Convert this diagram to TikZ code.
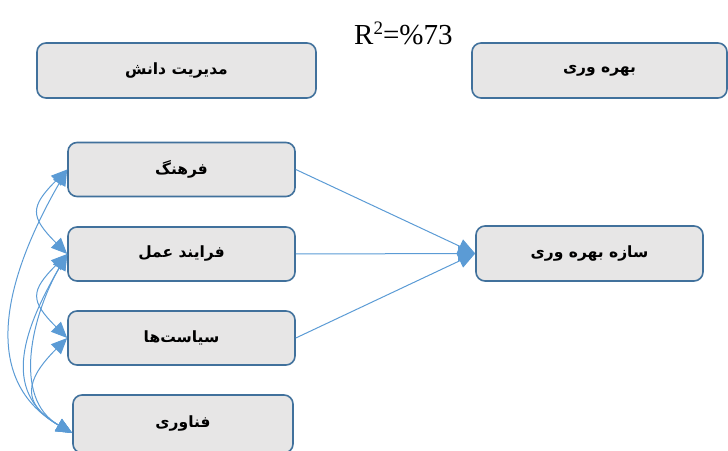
\documentclass[tikz,border=0pt]{standalone}
\usepackage{fontspec}
\setmainfont{Liberation Serif}
\newfontfamily\fa[Script=Arabic]{DejaVu Sans}
\TeXXeTstate=1
\usetikzlibrary{arrows.meta}
\definecolor{boxline}{HTML}{41719C}
\definecolor{boxfill}{HTML}{E7E6E6}
\definecolor{link}{HTML}{5B9BD5}
\tikzset{
  factor/.style={draw=boxline, fill=boxfill, line width=1.6pt, rounded corners=9pt,
    minimum height=54pt, inner sep=0pt, font=\fa\bfseries\fontsize{15.5}{18}\selectfont},
  link/.style={draw=link, line width=1pt},
  tip/.style={-{Triangle[length=17pt,width=15pt]}},
  both/.style={{Triangle[length=16pt,width=14pt]}-{Triangle[length=16pt,width=14pt]}}
}
\begin{document}
\begin{tikzpicture}[x=1pt,y=1pt]
\clip (0,0) rectangle (728,450);
% header boxes
\node[factor, minimum width=279pt, minimum height=55pt] (km) at (176.5,379.5) {\beginR مدیریت دانش\endR};
\node[factor, minimum width=255pt, minimum height=55pt] (prod) at (599.5,379.5) {\beginR بهره وری\endR};
\node[anchor=base west, inner sep=0pt, font=\fontsize{29}{34}\selectfont] (r2) at (354,405)
  {R\raisebox{10pt}{\fontsize{19}{20}\selectfont 2}=\%73};
% factors
\node[factor, minimum width=227pt] (f1) at (181.5,280.5) {\beginR فرهنگ\endR};
\node[factor, minimum width=227pt] (f2) at (181.5,196) {\beginR فرایند عمل\endR};
\node[factor, minimum width=227pt] (f3) at (181.5,112) {\beginR سیاست‌ها\endR};
\node[factor, minimum width=220pt, minimum height=58pt] (f4) at (183,26) {\beginR فناوری\endR};
\node[factor, minimum width=227pt, minimum height=55pt] (sb) at (589.5,196.5) {\beginR سازه بهره وری\endR};
\coordinate (f4in) at ([yshift=-9pt]f4.west);
% paths to the construct
\draw[link, tip] (f1.east) -- (sb.west);
\draw[link, tip] (f2.east) -- (sb.west);
\draw[link, tip] (f3.east) -- (sb.west);
% correlations among factors
\draw[link, both] (f1.west) to[out=225, in=135, looseness=1.6] (f2.west);
\draw[link, both] (f2.west) to[out=225, in=135, looseness=1.6] (f3.west);
\draw[link, both] (f3.west) to[out=225, in=150, looseness=1.6] (f4in);
\draw[link, both] (f2.west) to[out=240, in=150, looseness=1.0] (f4in);
\draw[link, both] (f2.west) to[out=240, in=150, looseness=1.2] (f4in);
\draw[link, both] (f1.west) to[out=240, in=150, looseness=1.1] (f4in);
\end{tikzpicture}
\end{document}
